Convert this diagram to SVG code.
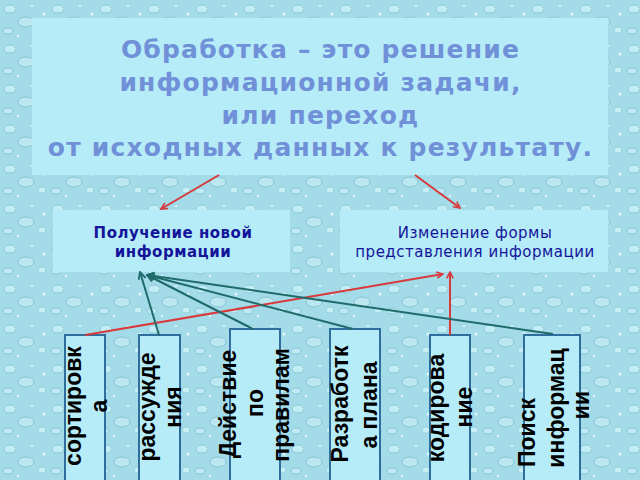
<svg xmlns="http://www.w3.org/2000/svg" width="640" height="480" viewBox="0 0 640 480">
<defs>
<pattern id="drops" x="0" y="0" width="48" height="40" patternUnits="userSpaceOnUse">
<rect width="48" height="40" fill="#a3dbe8"/>
<ellipse cx="10" cy="9" rx="6" ry="4" fill="#c3edf5" stroke="#80c0d1" stroke-width="0.8"/>
<ellipse cx="32" cy="6" rx="3" ry="2" fill="#c0ebf4" stroke="#86c4d4" stroke-width="0.6"/>
<ellipse cx="26" cy="22" rx="8" ry="5" fill="#bbe7f1" stroke="#7cbccd" stroke-width="0.8"/>
<ellipse cx="42" cy="30" rx="4" ry="3" fill="#c6eff6" stroke="#84c2d3" stroke-width="0.6"/>
<ellipse cx="8" cy="31" rx="5" ry="3" fill="#beeaf3" stroke="#80bfd0" stroke-width="0.7"/>
<circle cx="44" cy="14" r="1.5" fill="#e0f7fb"/>
<circle cx="18" cy="36" r="1.2" fill="#e0f7fb"/>
</pattern>
<marker id="arrR" viewBox="0 0 10 10" refX="9" refY="5" markerWidth="8" markerHeight="8" markerUnits="userSpaceOnUse" orient="auto">
<path d="M1,1 L9,5 L1,9" fill="none" stroke="#d8393b" stroke-width="2"/>
</marker>
<marker id="arrT" viewBox="0 0 10 10" refX="9" refY="5" markerWidth="9" markerHeight="9" markerUnits="userSpaceOnUse" orient="auto">
<path d="M1,1 L9,5 L1,9" fill="none" stroke="#1f6b6b" stroke-width="2"/>
</marker>
</defs>
<style>
.title{font-family:"DejaVu Sans",Verdana,sans-serif;font-weight:bold;font-size:25px;letter-spacing:1.2px;fill:#7090d8;text-anchor:middle}
.mid{font-family:"DejaVu Sans",Verdana,sans-serif;font-size:15px;letter-spacing:0.5px;fill:#14149a;text-anchor:middle}
.vbox{fill:#b6ecf7;stroke:#2f6d9c;stroke-width:2}
.vt{font-family:"Liberation Sans",Arial,sans-serif;font-weight:bold;font-size:23px;fill:#000;text-anchor:middle}
.red{stroke:#d8393b;stroke-width:2;fill:none;marker-end:url(#arrR)}
.teal{stroke:#1f6b6b;stroke-width:2;fill:none;marker-end:url(#arrT)}
</style>
<rect width="640" height="480" fill="url(#drops)"/>

<g id="title">
<rect x="32" y="18" width="576" height="157" fill="#b6ecf7"/>
<text class="title" x="320.5" y="58">Обработка – это решение</text>
<text class="title" x="320.5" y="91">информационной задачи,</text>
<text class="title" x="320.5" y="124">или переход</text>
<text class="title" x="320.5" y="156">от исходных данных к результату.</text>
</g>

<g id="new-info">
<rect x="53" y="210" width="237" height="62" fill="#b6ecf7"/>
<text class="mid" x="173" y="238" font-weight="bold">Получение новой</text>
<text class="mid" x="173" y="257" font-weight="bold">информации</text>
</g>

<g id="form-change">
<rect x="340" y="210" width="268" height="62" fill="#b6ecf7"/>
<text class="mid" x="475" y="238">Изменение формы</text>
<text class="mid" x="475" y="257">представления информации</text>
</g>

<g id="sort">
<rect class="vbox" x="65" y="335" width="40" height="150"/>
<text class="vt" transform="translate(81,406) rotate(-90)">сортировк</text>
<text class="vt" transform="translate(107,406) rotate(-90)">а</text>
</g>

<g id="reason">
<rect class="vbox" x="139" y="335" width="41" height="150"/>
<text class="vt" transform="translate(155,407) rotate(-90)">рассужде</text>
<text class="vt" transform="translate(181,407) rotate(-90)">ния</text>
</g>

<g id="rules">
<rect class="vbox" x="230" y="329" width="50" height="156"/>
<text class="vt" transform="translate(236,404) rotate(-90)">Действие</text>
<text class="vt" transform="translate(263,403) rotate(-90)">по</text>
<text class="vt" transform="translate(289,405) rotate(-90)">правилам</text>
</g>

<g id="plan">
<rect class="vbox" x="330" y="329" width="50" height="156"/>
<text class="vt" transform="translate(348,404) rotate(-90)">Разработк</text>
<text class="vt" transform="translate(377,405) rotate(-90)">а плана</text>
</g>

<g id="coding">
<rect class="vbox" x="430" y="335" width="40" height="150"/>
<text class="vt" transform="translate(444,408) rotate(-90)">кодирова</text>
<text class="vt" transform="translate(472,407) rotate(-90)">ние</text>
</g>

<g id="search">
<rect class="vbox" x="524" y="335" width="56" height="150"/>
<text class="vt" transform="translate(535,467) rotate(-90)" style="text-anchor:start">Поиск</text>
<text class="vt" transform="translate(564,408) rotate(-90)">информац</text>
<text class="vt" transform="translate(589,405) rotate(-90)">ии</text>
</g>

<g id="connectors">
<line class="red" x1="219" y1="175" x2="161" y2="209"/>
<line class="red" x1="415" y1="175" x2="460" y2="208"/>
<line class="red" x1="85" y1="335" x2="443" y2="274"/>
<line class="red" x1="450" y1="335" x2="450" y2="272"/>
<line class="teal" x1="159" y1="335" x2="140" y2="272"/>
<line class="teal" x1="253" y1="329" x2="147" y2="275"/>
<line class="teal" x1="353" y1="329" x2="147" y2="275"/>
<line class="teal" x1="553" y1="334" x2="147" y2="275"/>
</g>
</svg>
